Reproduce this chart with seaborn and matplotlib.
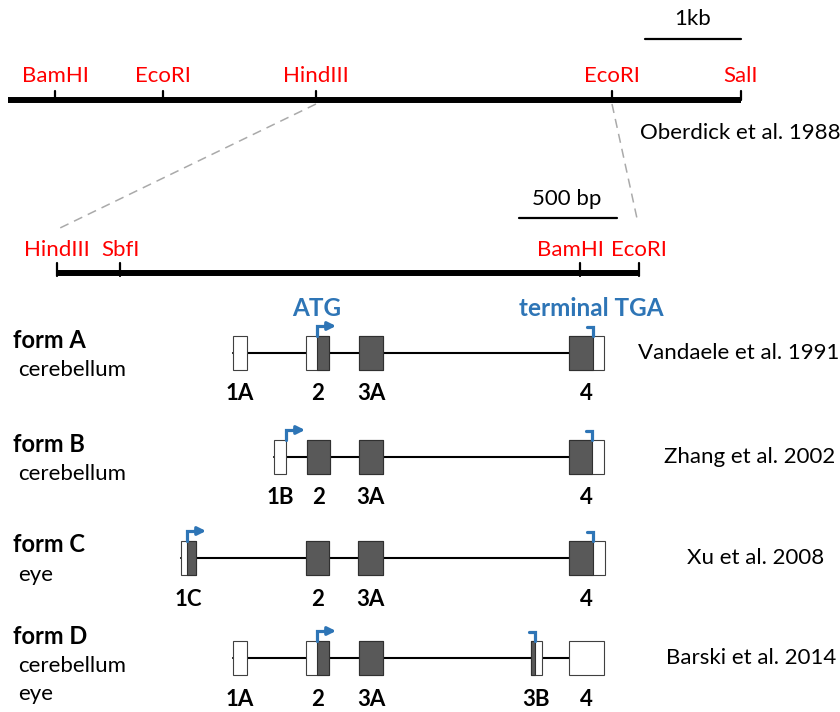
"""Gene structure diagram: restriction maps and transcript forms."""

import matplotlib.pyplot as plt
import seaborn as sns
from matplotlib.patches import Rectangle

sns.set_theme(style="white")
plt.rcParams["font.family"] = ["Lato", "DejaVu Sans"]
plt.rcParams["text.color"] = "black"

RED = "#ff0000"
BLUE = "#2e75b6"
DARK = "#595959"

# ---- data (x in drawing units) ----
top_sites = ["BamHI", "EcoRI", "HindIII", "EcoRI", "SalI"]
top_site_x = [55, 163, 316, 612, 741]
top_ref = "Oberdick et al. 1988"

zoom_sites = ["HindIII", "SbfI", "BamHI", "EcoRI"]
zoom_site_x = [57, 120, 580, 639]

forms = ["form A", "form B", "form C", "form D"]
tissues = [["cerebellum"], ["cerebellum"], ["eye"], ["cerebellum", "eye"]]
refs = ["Vandaele et al. 1991", "Zhang et al. 2002", "Xu et al. 2008", "Barski et al. 2014"]

exon_names = [
    ["1A", "2", "3A", "4"],
    ["1B", "2", "3A", "4"],
    ["1C", "2", "3A", "4"],
    ["1A", "2", "3A", "3B", "4"],
]
exon_start = [
    [232.5, 305.5, 359, 568.5],
    [274, 307, 358.5, 568.5],
    [181, 306, 358, 569],
    [232.5, 305.5, 359, 530.5, 568.5],
]
exon_end = [
    [247, 329, 383, 604],
    [286, 329.5, 383, 603.5],
    [196, 329, 382.5, 604.5],
    [247, 329, 383, 541.5, 604],
]
cds_start = [317, 286, 187, 317]
cds_end = [592.5, 592, 592.5, 534.5]

# ---- layout ----
track_y = [353, 457, 558, 658]
form_label_y = [340, 444, 545, 636]
zoom_label_x = [57, 120, 570, 639]
ref_x = [739, 750, 756, 751]
BOX_H = 34
LABEL_DY = 41
FS = 16

fig = plt.figure(figsize=(8.4, 7.12), dpi=100)
ax = fig.add_axes([0, 0, 1, 1])
ax.set_xlim(0, 840)
ax.set_ylim(712, 0)
ax.axis("off")

# top restriction map
ax.plot([8, max(top_site_x)], [100, 100], color="black", lw=4.3, solid_capstyle="butt")
for name, x in zip(top_sites, top_site_x):
    ax.plot([x, x], [100, 91], color="black", lw=1.6)
    ax.text(x, 76, name, color=RED, fontsize=FS, ha="center", va="center")
ax.plot([645, 741], [39, 39], color="black", lw=1.6)
ax.text(693, 19, "1kb", fontsize=FS, ha="center", va="center")
ax.text(740, 133, top_ref, fontsize=FS, ha="center", va="center")

# zoom lines
ax.plot([316, 60], [104, 228], color="#aaaaaa", lw=1.1, dashes=(6, 4))
ax.plot([612, 638], [104, 223], color="#aaaaaa", lw=1.1, dashes=(6, 4))

# zoomed restriction map
ax.plot([zoom_site_x[0], zoom_site_x[-1]], [273, 273], color="black", lw=4.3,
        solid_capstyle="butt")
for name, x, lx in zip(zoom_sites, zoom_site_x, zoom_label_x):
    ax.plot([x, x], [276, 263], color="black", lw=1.6)
    ax.text(lx, 250, name, color=RED, fontsize=FS, ha="center", va="center")
ax.plot([519, 617], [218, 218], color="black", lw=1.6)
ax.text(567, 199, "500 bp", fontsize=FS, ha="center", va="center")

ax.text(317, 308, "ATG", color=BLUE, fontsize=17.5, fontweight="bold", ha="center",
        va="center")
ax.text(591, 308, "terminal TGA", color=BLUE, fontsize=17.5, fontweight="bold",
        ha="center", va="center")

# transcripts
for i, form in enumerate(forms):
    yc = track_y[i]
    top = yc - BOX_H / 2
    starts, ends = exon_start[i], exon_end[i]
    ax.plot([starts[0], ends[-1]], [yc, yc], color="black", lw=1.5, zorder=1)
    for name, s, e in zip(exon_names[i], starts, ends):
        ax.add_patch(Rectangle((s, top), e - s, BOX_H, facecolor="white",
                               edgecolor="#404040", lw=0.8, zorder=2))
        cs, ce = max(s, cds_start[i]), min(e, cds_end[i])
        if ce > cs:
            ax.add_patch(Rectangle((cs, top), ce - cs, BOX_H, facecolor=DARK,
                                   edgecolor="#303030", lw=0.8, zorder=3))
        ax.text((s + e) / 2, yc + LABEL_DY, name, fontsize=FS, fontweight="bold",
                ha="center", va="center")

    # start arrow
    xs = cds_start[i]
    ax.plot([xs, xs, xs + 10], [top, top - 10, top - 10], color=BLUE, lw=2.3,
            solid_joinstyle="miter", zorder=4)
    ax.annotate("", xy=(xs + 19, top - 10), xytext=(xs + 8, top - 10),
                arrowprops=dict(arrowstyle="-|>", color=BLUE, lw=2.3,
                                mutation_scale=12, shrinkA=0, shrinkB=0), zorder=4)
    # stop hook
    xe = cds_end[i]
    ax.plot([xe, xe, xe - 6], [top, top - 9, top - 9], color=BLUE, lw=2.3,
            solid_joinstyle="miter", zorder=4)

    ax.text(13, form_label_y[i], form, fontsize=17, fontweight="bold", ha="left", va="center")
    for k, t in enumerate(tissues[i]):
        ax.text(18, form_label_y[i] + 30 + 28 * k, t, fontsize=FS, ha="left", va="center")
    ax.text(ref_x[i], yc, refs[i], fontsize=FS, ha="center", va="center")

fig.savefig("out.png", dpi=100)
plt.close(fig)
